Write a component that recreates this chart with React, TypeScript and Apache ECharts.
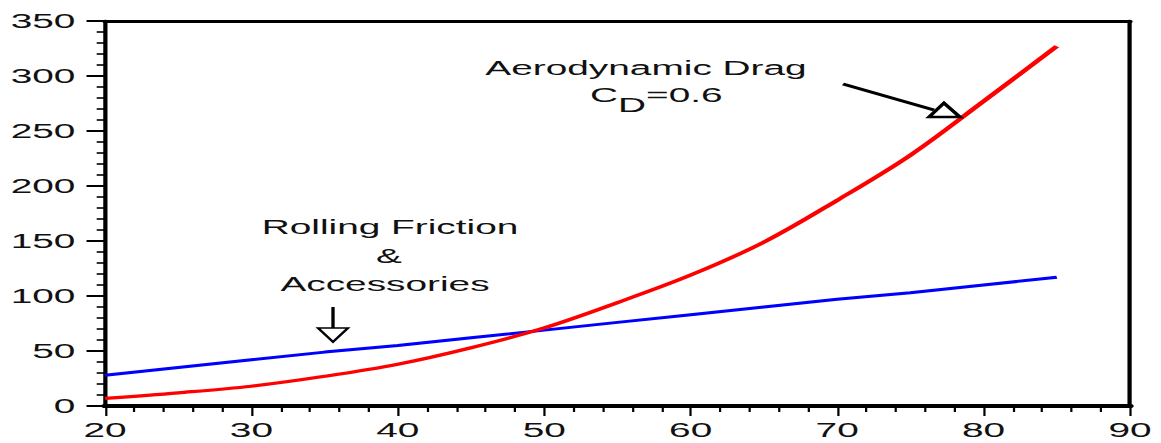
import React, { useEffect, useRef } from "react";
import * as echarts from "echarts";

// ---- data ----
const speedMph = [20, 25, 30, 35, 40, 45, 50, 55, 60, 65, 70, 75, 80, 85];
const aeroDragPower = [7, 12, 18, 27, 38, 53, 71, 94, 119, 149, 187, 228, 277, 327];
const rollingPower = [28, 35, 42, 49, 55, 62, 69, 76, 83, 90, 97, 103, 110, 117];

const X_MIN = 20;
const X_MAX = 90;
const X_STEP = 10;
const Y_MIN = 0;
const Y_MAX = 350;
const Y_STEP = 50;

const dragTitle = "Aerodynamic Drag";
const dragCoefParts = ["C", "D", "=0.6"];
const rollingTitle = ["Rolling Friction", "&", "Accessories"];

// ---- layout ----
const PAGE_W = 1161;
const PAGE_H = 443;
const CHART_W = 628; // chart is drawn narrower, then stretched horizontally like the reference
const SX = PAGE_W / CHART_W;
const px = (x: number) => x / SX;
const FONT = "'Liberation Sans', Arial, Helvetica, sans-serif";
const INK = "#111";

export default function App() {
  const ref = useRef<HTMLDivElement>(null);

  useEffect(() => {
    if (!ref.current) return;
    const chart = echarts.init(ref.current, undefined, { renderer: "svg" });

    const textStyle = (text: string, align: string, size = 21) => ({
      text,
      fontSize: size,
      fontFamily: FONT,
      fill: INK,
      textAlign: align,
      align,
      textVerticalAlign: "middle",
      verticalAlign: "middle",
    });

    const cLeft = px(590);
    const charW = 0.722 * 21;

    chart.setOption({
      animation: false,
      backgroundColor: "#ffffff",
      grid: {
        left: px(105),
        right: CHART_W - px(1130),
        top: 21,
        bottom: PAGE_H - 406,
        containLabel: false,
      },
      xAxis: [
        {
          type: "value",
          position: "bottom",
          min: X_MIN,
          max: X_MAX,
          interval: X_STEP,
          axisLine: { show: true, onZero: false, lineStyle: { color: "#000", width: 4 } },
          axisTick: { show: true, inside: false, length: 10, lineStyle: { color: "#000", width: 1.2 } },
          minorTick: { show: true, splitNumber: 5, length: 6, lineStyle: { color: "#000", width: 1.2 } },
          axisLabel: { fontSize: 21, fontFamily: FONT, color: INK, margin: 13 },
          splitLine: { show: false },
          minorSplitLine: { show: false },
        },
        {
          type: "value",
          position: "top",
          min: X_MIN,
          max: X_MAX,
          interval: X_STEP,
          axisLine: { show: true, onZero: false, lineStyle: { color: "#000", width: 3 } },
          axisTick: { show: false },
          axisLabel: { show: false },
          splitLine: { show: false },
        },
      ],
      yAxis: [
        {
          type: "value",
          position: "left",
          min: Y_MIN,
          max: Y_MAX,
          interval: Y_STEP,
          axisLine: { show: true, onZero: false, lineStyle: { color: "#000", width: 2.3 } },
          axisTick: { show: true, inside: false, length: 10, lineStyle: { color: "#000", width: 2 } },
          minorTick: { show: true, splitNumber: 5, length: 4.5, lineStyle: { color: "#000", width: 1.6 } },
          axisLabel: { fontSize: 21, fontFamily: FONT, color: INK, margin: 16 },
          splitLine: { show: false },
          minorSplitLine: { show: false },
        },
        {
          type: "value",
          position: "right",
          min: Y_MIN,
          max: Y_MAX,
          interval: Y_STEP,
          axisLine: { show: true, onZero: false, lineStyle: { color: "#000", width: 2.3 } },
          axisTick: { show: false },
          axisLabel: { show: false },
          splitLine: { show: false },
        },
      ],
      series: [
        {
          name: "Rolling Friction & Accessories",
          type: "line",
          xAxisIndex: 0,
          yAxisIndex: 0,
          data: speedMph.map((s, i) => [s, rollingPower[i]]),
          showSymbol: false,
          smooth: false,
          lineStyle: { color: "#0000ff", width: 3 },
          itemStyle: { color: "#0000ff" },
          z: 3,
        },
        {
          name: "Aerodynamic Drag",
          type: "line",
          xAxisIndex: 0,
          yAxisIndex: 0,
          data: speedMph.map((s, i) => [s, aeroDragPower[i]]),
          showSymbol: false,
          smooth: 0.35,
          lineStyle: { color: "#ff0000", width: 3.2 },
          itemStyle: { color: "#ff0000" },
          z: 4,
        },
      ],
      graphic: [
        { type: "text", x: px(646), y: 68, z: 10, style: textStyle(dragTitle, "center") },
        { type: "text", x: cLeft, y: 95, z: 10, style: textStyle(dragCoefParts[0], "left") },
        { type: "text", x: cLeft + charW, y: 105, z: 10, style: textStyle(dragCoefParts[1], "left") },
        { type: "text", x: cLeft + 2 * charW, y: 95, z: 10, style: textStyle(dragCoefParts[2], "left") },
        {
          type: "line",
          z: 10,
          shape: { x1: px(843), y1: 84, x2: px(934), y2: 110 },
          style: { stroke: "#000", lineWidth: 2.6 },
        },
        {
          type: "polygon",
          z: 11,
          shape: { points: [[px(929), 117], [px(944), 103], [px(960), 117]] },
          style: { fill: "#fff", stroke: "#000", lineWidth: 2.4 },
        },
        { type: "text", x: px(390), y: 227, z: 10, style: textStyle(rollingTitle[0], "center") },
        { type: "text", x: px(389), y: 256, z: 10, style: textStyle(rollingTitle[1], "center") },
        { type: "text", x: px(385), y: 284, z: 10, style: textStyle(rollingTitle[2], "center") },
        {
          type: "line",
          z: 10,
          shape: { x1: px(333), y1: 307, x2: px(333), y2: 328 },
          style: { stroke: "#000", lineWidth: 1.8 },
        },
        {
          type: "polygon",
          z: 11,
          shape: { points: [[px(318), 328], [px(348), 328], [px(333), 342]] },
          style: { fill: "#fff", stroke: "#000", lineWidth: 1.6 },
        },
      ],
    });

    return () => chart.dispose();
  }, []);

  return (
    <div
      ref={ref}
      style={{
        position: "fixed",
        left: 0,
        top: 0,
        width: CHART_W,
        height: PAGE_H,
        transform: `scaleX(${SX})`,
        transformOrigin: "0 0",
        background: "#fff",
      }}
    />
  );
}
